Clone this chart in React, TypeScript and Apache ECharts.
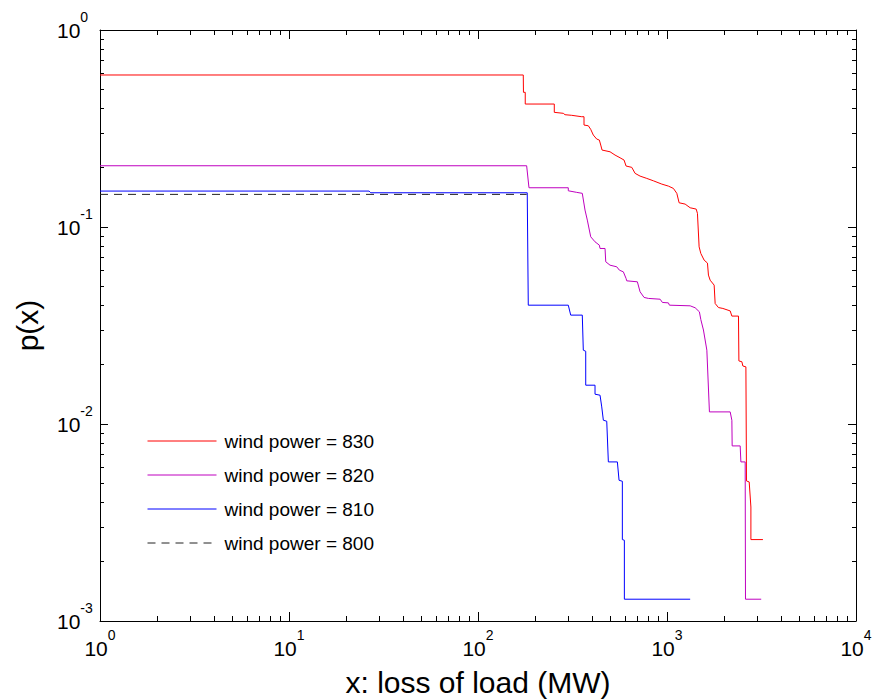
import React, { useEffect, useRef } from "react";
import * as echarts from "echarts";

// ---- data (x: loss of load in MW, p: probability) ----
const wind830: [number, number][] = [
  [1, 0.591], [173.6, 0.591], [174.0, 0.4827], [177.8, 0.4827], [177.8, 0.4209],
  [253.3, 0.4209], [253.3, 0.382], [282.7, 0.3776], [288.6, 0.3715], [313.2, 0.3689],
  [353.8, 0.3629], [363.8, 0.3629], [363.8, 0.3292], [383.4, 0.3266], [394.8, 0.3131],
  [407.5, 0.2929], [424.8, 0.2795], [438.5, 0.2763], [446.1, 0.2606], [453.3, 0.2458],
  [499.5, 0.2409], [531.0, 0.2318], [564.4, 0.2246], [592.6, 0.2187], [607.3, 0.2039],
  [651.1, 0.2008], [677.8, 0.1872], [720.3, 0.1813], [781.6, 0.1765], [847.2, 0.1716],
  [938.6, 0.1651], [1017, 0.1613], [1081, 0.157], [1127, 0.1482], [1159, 0.1327],
  [1247, 0.1307], [1326, 0.1252], [1427, 0.1233], [1449, 0.1173], [1479, 0.0793],
  [1510, 0.0734], [1572, 0.0679], [1637, 0.0656], [1657, 0.057], [1692, 0.0537],
  [1776, 0.0507], [1798, 0.0409], [1872, 0.039], [1975, 0.0386], [2159, 0.0375],
  [2204, 0.0353], [2389, 0.0353], [2401, 0.0209], [2490, 0.0207], [2520, 0.0197],
  [2615, 0.0195], [2634, 0.00514], [2722, 0.00508], [2779, 0.00379], [2779, 0.00259],
  [3217, 0.00259],
];

const wind820: [number, number][] = [
  [1, 0.2046], [180.9, 0.2046], [186.1, 0.1582], [300.4, 0.1582], [300.4, 0.1527],
  [332.9, 0.1499], [356.3, 0.1482], [368.3, 0.1219], [378.8, 0.1084], [394.8, 0.0892],
  [416.1, 0.0841], [438.5, 0.0809], [442.3, 0.0778], [470.1, 0.0778], [474.1, 0.0666],
  [499.5, 0.064], [542.2, 0.0628], [559.7, 0.0604], [587.6, 0.0592], [607.3, 0.0548],
  [612.5, 0.0533], [697.0, 0.0527], [720.3, 0.0469], [756.3, 0.0439], [796.9, 0.0434],
  [919.5, 0.043], [945.5, 0.0414], [1017, 0.0412], [1030, 0.0401], [1326, 0.0398],
  [1409, 0.0389], [1484, 0.0371], [1510, 0.0339], [1559, 0.03], [1625, 0.0237],
  [1677, 0.01152], [2159, 0.01152], [2204, 0.01045], [2212, 0.00774], [2439, 0.00774],
  [2460, 0.00642], [2592, 0.00642], [2602, 0.00129], [3151, 0.00129],
];

const wind810: [number, number][] = [
  [1, 0.1522], [26.53, 0.1522], [27.08, 0.1492], [182.2, 0.1492], [184.5, 0.0401],
  [300.4, 0.0401], [309.4, 0.0357], [356.3, 0.0357], [360.7, 0.0237], [371.5, 0.0234],
  [371.5, 0.01574], [416.1, 0.01574], [416.1, 0.01417], [442.3, 0.014], [451.6, 0.01221],
  [460.5, 0.01045], [479.9, 0.01033], [489.4, 0.00642], [546.2, 0.00642], [557.6, 0.00518],
  [580.5, 0.00512], [580.5, 0.00259], [594.9, 0.00257], [594.9, 0.00129], [1326, 0.00129],
];

const wind800: [number, number][] = [
  [1, 0.1464], [180.9, 0.1464],
];

const seriesNames = [
  "wind power = 830",
  "wind power = 820",
  "wind power = 810",
  "wind power = 800",
];
const seriesColors = ["#ff0000", "#bf00bf", "#0000ff", "#222222"];

const xDecades = [1, 10, 100, 1000];
const yDecades = [0.001, 0.01, 0.1];
const minorMultipliers = [2, 3, 4, 5, 6, 7, 8, 9];

const minorTicks = (decades: number[]) =>
  decades.flatMap((d) => minorMultipliers.map((k) => Number((k * d).toPrecision(3))));

const FONT = '"Liberation Sans", Arial, Helvetica, sans-serif';

const labelRich = {
  b: { fontSize: 21, lineHeight: 40, fontFamily: FONT, color: "#000" },
  s: { fontSize: 14, lineHeight: 14, verticalAlign: "top", fontFamily: FONT, color: "#000" },
};

const powLabel = (v: number) => {
  const e = Math.round(Math.log10(v));
  return `{b|10}{s|${e}}`;
};

export default function App() {
  const ref = useRef<HTMLDivElement>(null);

  useEffect(() => {
    if (!ref.current) return;
    const chart = echarts.init(ref.current, undefined, { renderer: "svg" });

    const axisLine = { show: true, lineStyle: { color: "#000", width: 1 } };
    const xMinor = minorTicks(xDecades);
    const yMinor = minorTicks(yDecades);

    const xBase = { type: "log", logBase: 10, min: 1, max: 10000, splitLine: { show: false } };
    const yBase = { type: "log", logBase: 10, min: 0.001, max: 1, splitLine: { show: false } };

    const seriesData = [wind830, wind820, wind810, wind800];

    const option: any = {
      animation: false,
      backgroundColor: "#fff",
      grid: { left: 100, right: 17, top: 30, bottom: 79, containLabel: false, outerBoundsMode: "none" },
      legend: {
        orient: "vertical",
        left: 147,
        top: 431,
        padding: 0,
        itemWidth: 69,
        itemHeight: 20,
        itemGap: 14,
        data: seriesNames.map((name, i) => ({
          name,
          lineStyle: { color: seriesColors[i], width: 1, type: i === 3 ? [8, 6] : "solid" },
        })),
        itemStyle: { opacity: 0 },
        textStyle: { fontSize: 19, lineHeight: 20, fontFamily: FONT, color: "#000", padding: [0, 0, 0, 3] },
      },
      xAxis: [
        {
          ...xBase,
          position: "bottom",
          axisLine,
          axisTick: { show: true, inside: true, length: 9, lineStyle: { color: "#000" } },
          axisLabel: { show: true, margin: 7, formatter: powLabel, rich: labelRich },
          name: "x: loss of load (MW)",
          nameLocation: "middle",
          nameGap: 46,
          nameTextStyle: { fontSize: 30, lineHeight: 30, fontFamily: FONT, color: "#000" },
        },
        {
          ...xBase,
          position: "bottom",
          axisLine: { show: false },
          axisTick: { show: true, inside: true, length: 5, customValues: xMinor, lineStyle: { color: "#000" } },
          axisLabel: { show: false },
        },
        {
          ...xBase,
          position: "top",
          axisLine,
          axisTick: { show: true, inside: true, length: 9, lineStyle: { color: "#000" } },
          axisLabel: { show: false },
        },
        {
          ...xBase,
          position: "top",
          axisLine: { show: false },
          axisTick: { show: true, inside: true, length: 5, customValues: xMinor, lineStyle: { color: "#000" } },
          axisLabel: { show: false },
        },
      ],
      yAxis: [
        {
          ...yBase,
          position: "left",
          axisLine,
          axisTick: { show: true, inside: true, length: 8, lineStyle: { color: "#000" } },
          axisLabel: { show: true, margin: 43, align: "left", formatter: powLabel, rich: labelRich },
          name: "p(x)",
          nameLocation: "middle",
          nameGap: 58,
          nameTextStyle: { fontSize: 30, fontFamily: FONT, color: "#000" },
        },
        {
          ...yBase,
          position: "left",
          axisLine: { show: false },
          axisTick: { show: true, inside: true, length: 4, customValues: yMinor, lineStyle: { color: "#000" } },
          axisLabel: { show: false },
        },
        {
          ...yBase,
          position: "right",
          axisLine,
          axisTick: { show: true, inside: true, length: 8, lineStyle: { color: "#000" } },
          axisLabel: { show: false },
        },
        {
          ...yBase,
          position: "right",
          axisLine: { show: false },
          axisTick: { show: true, inside: true, length: 4, customValues: yMinor, lineStyle: { color: "#000" } },
          axisLabel: { show: false },
        },
      ],
      series: seriesNames.map((name, i) => ({
        name,
        type: "line",
        data: seriesData[i],
        color: seriesColors[i],
        lineStyle: { color: seriesColors[i], width: 1, type: i === 3 ? [8, 6] : "solid" },
        xAxisIndex: 0,
        yAxisIndex: 0,
        symbol: "none",
        showSymbol: false,
        silent: true,
      })),
    };

    chart.setOption(option);
    return () => chart.dispose();
  }, []);

  return (
    <div
      ref={ref}
      style={{ position: "fixed", left: 0, top: 0, width: 873, height: 700, background: "#fff" }}
    />
  );
}
